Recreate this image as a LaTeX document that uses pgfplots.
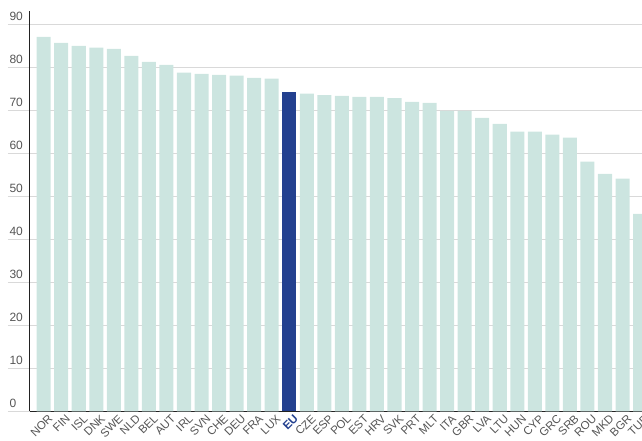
\documentclass[border=0pt]{standalone}
\usepackage{pgfplots}
\pgfplotsset{compat=1.18}
\usepackage{pgfplotstable}
\usepackage{fontspec}
\setmainfont{Liberation Sans}
\definecolor{barc}{HTML}{CCE5E0}
\definecolor{eublue}{HTML}{23408F}
\definecolor{gridc}{HTML}{D9D9D9}
\definecolor{labc}{HTML}{555555}
\definecolor{axc}{HTML}{222222}

\pgfplotstableread{
x y
0 87.0
1 85.6
2 84.9
3 84.5
4 84.2
5 82.6
6 81.2
7 80.5
8 78.7
9 78.4
10 78.2
11 78.0
12 77.5
13 77.3
15 73.8
16 73.5
17 73.3
18 73.1
19 73.1
20 72.8
21 71.9
22 71.7
23 69.8
24 69.8
25 68.2
26 66.8
27 65.0
28 65.0
29 64.3
30 63.6
31 58.0
32 55.2
33 54.1
34 45.9
}\countries

\pgfplotstableread{
x y
14 74.2
}\eu

\begin{document}
\begin{tikzpicture}
\begin{axis}[
  name=ax,
  scale only axis,
  width=612pt, height=400.6pt,
  xmin=-0.78, xmax=34.11, ymin=0, ymax=93.1,
  axis x line*=bottom, axis y line*=left,
  axis line style={draw=axc, line width=1pt},
  ytick={0,10,...,90},
  ymajorgrids,
  grid style={draw=gridc, line width=0.8pt},
  major tick length=22pt, tick align=outside,
  ytick style={draw=gridc, line width=0.8pt},
  xtick style={draw=none},
  /pgf/number format/assume math mode=true,
  yticklabel style={anchor=south west, xshift=-2pt, yshift=0pt, font=\fontsize{12}{12}\selectfont, text=labc},
  xtick={0,1,...,34},
  xticklabels={NOR,FIN,ISL,DNK,SWE,NLD,BEL,AUT,IRL,SVN,CHE,DEU,FRA,LUX,{\textbf{\textcolor{eublue}{EU}}},CZE,ESP,POL,EST,HRV,SVK,PRT,MLT,ITA,GBR,LVA,LTU,HUN,CYP,GRC,SRB,ROU,MKD,BGR,TUR},
  xticklabel style={xshift=4pt, yshift=21pt, rotate=45, anchor=north east, font=\fontsize{11.5}{12}\selectfont, text=labc, inner sep=1pt},
  ybar, bar width=0.8, bar shift=0pt,
]
\addplot[fill=barc, draw=none] table[x=x,y=y] {\countries};
\addplot[fill=eublue, draw=none] table[x=x,y=y] {\eu};
\end{axis}
\pgfresetboundingbox
\path[use as bounding box] (-30pt,-29.7pt) rectangle (612pt,411.3pt);
\end{tikzpicture}
\end{document}
